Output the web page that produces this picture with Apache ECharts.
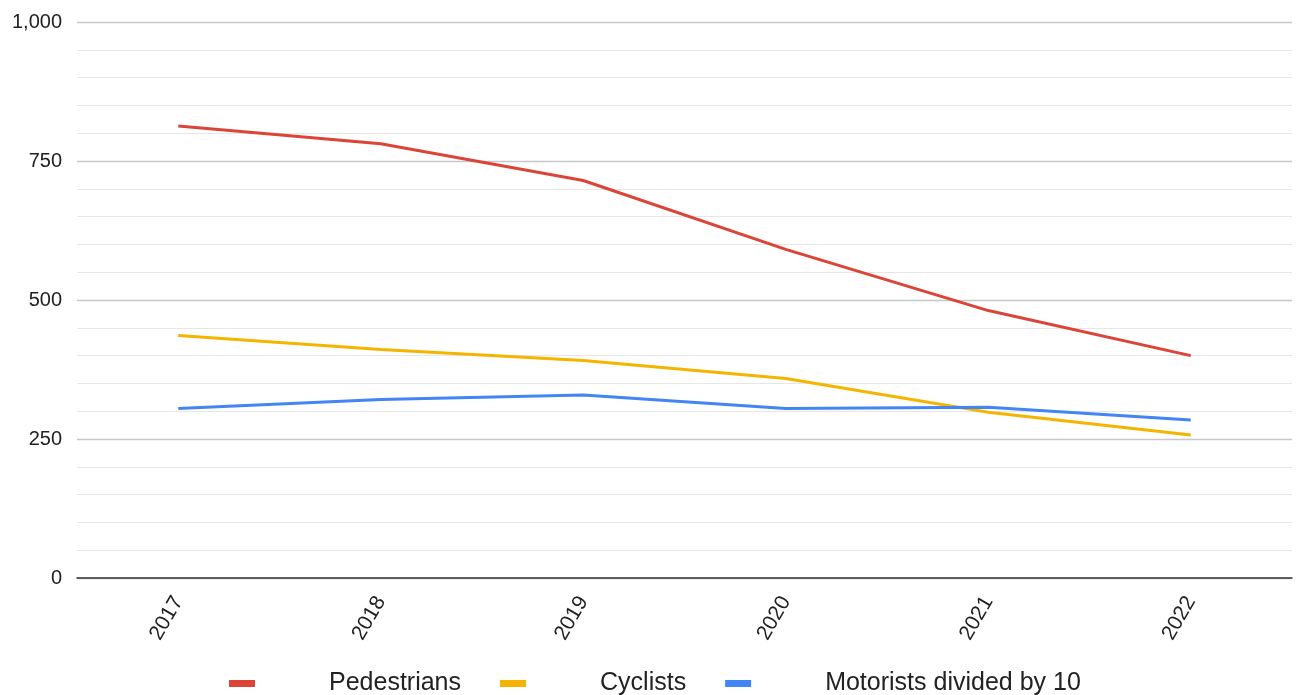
<!DOCTYPE html>
<html><head><meta charset="utf-8">
<script src="https://cdn.jsdelivr.net/npm/echarts@6/dist/echarts.min.js"></script>
<style>html,body{margin:0;padding:0;background:#fff}#c{width:1301px;height:695px}</style>
</head><body><div id="c"></div>
<script>
const years = ['2017','2018','2019','2020','2021','2022'];
const pedestrians = [813, 781, 715, 591, 481, 400];
const cyclists = [436, 411, 391, 359, 298, 257];
const motorists = [305, 321, 329, 305, 307, 284];
const seriesNames = ['Pedestrians','Cyclists','Motorists divided by 10'];
const colors = ['#db4437','#f4b400','#4285f4'];

const chart = echarts.init(document.getElementById('c'));
const font = 'Liberation Sans, Arial, sans-serif';
chart.setOption({
  animation:false,
  color: colors,
  grid:{left:77,right:9,top:22,bottom:117,containLabel:false},
  legend:{
    left:224, top:666, icon:'rect', itemWidth:26, itemHeight:7, itemGap:39,
    textStyle:{fontFamily:font,fontSize:25,color:'#222',padding:[0,0,0,69]},
    data: seriesNames
  },
  xAxis:{
    type:'category', data:years, boundaryGap:true,
    axisLine:{lineStyle:{color:'#333',width:1.5}},
    axisTick:{show:false},
    axisLabel:{rotate:60,fontFamily:font,fontSize:21,color:'#222',margin:20}
  },
  yAxis:{
    type:'value', min:0, max:1000, interval:250,
    axisLine:{show:false}, axisTick:{show:false},
    axisLabel:{fontFamily:font,fontSize:20,color:'#222',margin:15,
      formatter:v=>v.toLocaleString('en-US')},
    splitLine:{lineStyle:{color:'#c8c8c8',width:1.3}},
    minorTick:{show:false,splitNumber:5},
    minorSplitLine:{show:true,lineStyle:{color:'#e6e6e6',width:1.2}}
  },
  series:[
    {name:seriesNames[0],type:'line',data:pedestrians,showSymbol:false,lineStyle:{width:3}},
    {name:seriesNames[1],type:'line',data:cyclists,showSymbol:false,lineStyle:{width:3}},
    {name:seriesNames[2],type:'line',data:motorists,showSymbol:false,lineStyle:{width:3}}
  ]
});
</script></body></html>
